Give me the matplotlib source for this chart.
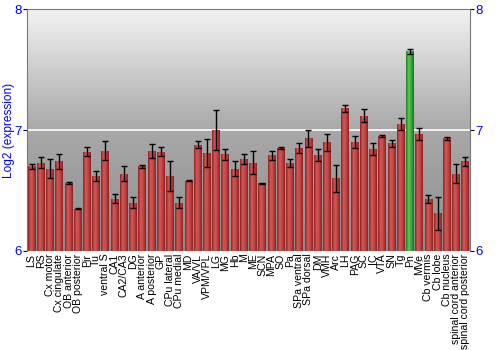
import numpy as np
import matplotlib
matplotlib.use("Agg")
import matplotlib.pyplot as plt
from matplotlib.colors import LinearSegmentedColormap

# regions along the x axis
regions = ["LS", "RS", "Cx motor", "Cx cingulate", "OB anterior", "OB posterior", "Pir", "Tu",
           "ventral S", "CA1", "CA2/CA3", "DG", "A anterior", "A posterior", "GP", "CPu lateral",
           "CPu medial", "MD", "VA/VL", "VPM/VPL", "LG", "MG", "Hb", "M", "ME", "SCN", "MPA", "SO",
           "Pa", "SPa ventral", "SPa dorsal", "DM", "VMH", "Arc", "LH", "PAG", "SC", "IC", "VTA",
           "SN", "Tg", "Pn", "MVe", "Cb vermis", "Cb lobe", "Cb nucleus",
           "spinal cord anterior", "spinal cord posterior"]

# log2 expression means
values = [6.70, 6.73, 6.68, 6.74, 6.56, 6.35, 6.82, 6.62,
          6.83, 6.43, 6.64, 6.40, 6.70, 6.83, 6.82, 6.62,
          6.40, 6.58, 6.88, 6.81, 7.00, 6.80, 6.68, 6.76, 6.73, 6.56, 6.79, 6.85,
          6.73, 6.85, 6.93, 6.79, 6.90, 6.60, 7.18, 6.90, 7.12, 6.84, 6.95,
          6.89, 7.05, 7.65, 6.97, 6.43, 6.31, 6.93,
          6.64, 6.74]

# error bar half-heights
errors = [0.02, 0.047, 0.08, 0.06, 0.01, 0.005, 0.036, 0.04,
          0.08, 0.037, 0.06, 0.047, 0.01, 0.058, 0.036, 0.127,
          0.045, 0.005, 0.03, 0.116, 0.165, 0.045, 0.062, 0.04, 0.096, 0.005, 0.04, 0.01,
          0.033, 0.04, 0.07, 0.05, 0.07, 0.11, 0.03, 0.05, 0.05, 0.05, 0.01,
          0.03, 0.05, 0.024, 0.05, 0.03, 0.14, 0.01,
          0.08, 0.04]

highlight = "Pn"

blue = "#0000ff"
plt.rcParams["font.family"] = ["Liberation Sans", "DejaVu Sans"]

fig = plt.figure(figsize=(5, 3.5), dpi=100)
ax = fig.add_axes([0.054, 0.283, 0.886, 0.691])

x = np.arange(len(regions))
ax.set_xlim(-0.5, len(regions) - 0.5)
ax.set_ylim(6, 8)

# background gradient, light at the top, darker at the bottom
bg = LinearSegmentedColormap.from_list("bg", ["#8e8e8e", "#a8a8a8", "#f2f2f2"])
grad = np.linspace(0, 1, 256).reshape(-1, 1)
ax.imshow(grad, cmap=bg, aspect="auto", origin="lower",
          extent=[-0.5, len(regions) - 0.5, 6, 8], zorder=0)
ax.axhline(7, color="white", lw=1.2, zorder=1)

red_cm = LinearSegmentedColormap.from_list("r", ["#8e2222", "#d45858", "#c24444", "#8a2020"])
green_cm = LinearSegmentedColormap.from_list("g", ["#1e7a1e", "#5cc85c", "#38a838", "#1c701c"])
hgrad = np.linspace(0, 1, 64).reshape(1, -1)

bars = ax.bar(x, np.array(values) - 6, bottom=6, width=0.86, color="none",
              edgecolor="none", zorder=2)
for name, b in zip(regions, bars):
    cm = green_cm if name == highlight else red_cm
    im = ax.imshow(hgrad, cmap=cm, aspect="auto",
                   extent=[b.get_x(), b.get_x() + b.get_width(), 6, 6 + b.get_height()],
                   zorder=2)
    im.set_clip_path(b)

ax.errorbar(x, values, yerr=errors, fmt="none", ecolor="black", elinewidth=1,
            capsize=2.2, capthick=1, zorder=3)

ax.set_xticks(x)
ax.set_xticklabels(regions, rotation=90, fontsize=7.6)
ax.tick_params(axis="x", length=0, pad=2)
ax.set_yticks([6, 7, 8])
ax.tick_params(axis="y", labelsize=9.5, labelcolor=blue, length=3, pad=1,
               right=True, labelright=True)
ax.set_ylabel("Log2 (expression)", color=blue, fontsize=8.6)
ax.yaxis.set_label_coords(-0.027, 0.5)

for s in ["top", "left", "right"]:
    ax.spines[s].set_color("#777777")
ax.spines["bottom"].set_visible(False)

fig.savefig("out.png", dpi=100)
